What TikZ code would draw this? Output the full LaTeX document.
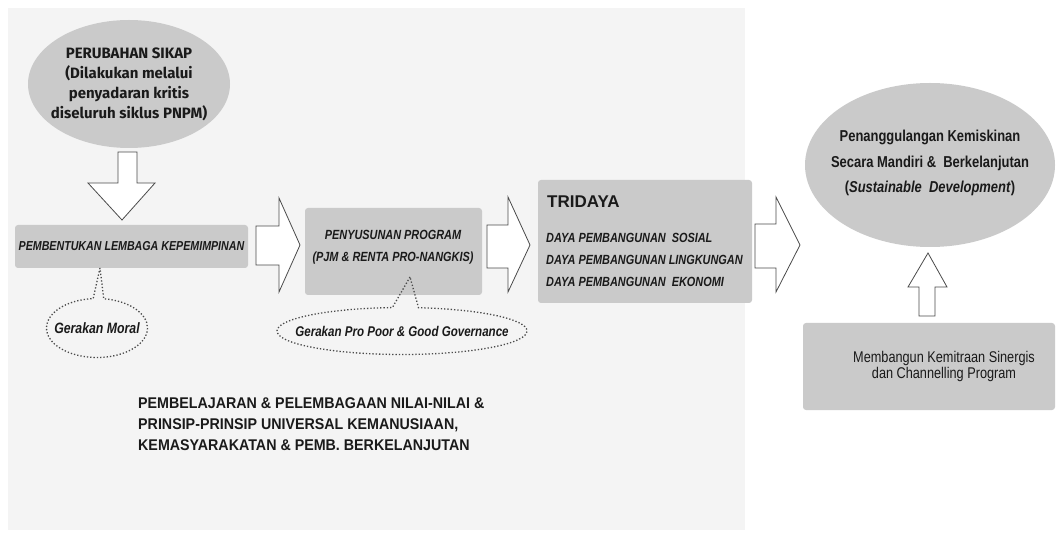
\documentclass[tikz,border=0pt]{standalone}
\usepackage{fontspec}
\setmainfont{Liberation Sans}
\newfontfamily\narrow[FakeStretch=0.82]{Liberation Sans}
\newfontfamily\semi[FakeStretch=0.92]{Liberation Sans}
\newfontfamily\gill{Fira Sans}
\usetikzlibrary{shapes.geometric,shapes.callouts}
\definecolor{panel}{HTML}{F4F4F4}
\definecolor{boxgray}{HTML}{CACACA}
\definecolor{arrowline}{HTML}{4A4A4A}
\definecolor{txt}{HTML}{1A1A1A}
\tikzset{
  graybox/.style={draw=none, fill=boxgray, rounded corners=3pt, inner sep=0pt},
  grayell/.style={ellipse, draw=none, fill=boxgray, inner sep=0pt},
  blockarrow/.style={draw=arrowline, fill=white, line width=0.8pt, line join=miter},
  dotcallout/.style={ellipse callout, draw=arrowline, dotted, line width=1.3pt, fill=none, inner sep=0pt, callout pointer arc=12},
  label/.style={inner sep=0pt, align=center},
  every node/.style={text=txt}
}
\begin{document}
\begin{tikzpicture}[x=1pt,y=-1pt]
\useasboundingbox[fill=white] (0,0) rectangle (1057,534);
\fill[panel] (8,8) rectangle (745,530);

% top-left ellipse
\node[grayell, minimum width=202pt, minimum height=128pt] (sikap) at (129,84) {};
\node[label, font=\gill\bfseries\fontsize{15}{20}\selectfont] (sikapt) at (sikap.center)
  {PERUBAHAN SIKAP\\(Dilakukan melalui\\penyadaran kritis\\diseluruh siklus PNPM)};

% down arrow
\draw[blockarrow] (118,152) -- (137,152) -- (137,183) -- (155,183) -- (122,220) -- (88,183) -- (118,183) -- cycle;

% box 1
\node[graybox, minimum width=233pt, minimum height=43pt,
      font=\narrow\bfseries\itshape\fontsize{13}{15}\selectfont] (lemb) at (131.5,246.5)
  {PEMBENTUKAN LEMBAGA KEPEMIMPINAN};

% arrow 1
\draw[blockarrow] (256,226) -- (279,226) -- (279,198) -- (300,245) -- (279,292) -- (279,265) -- (256,265) -- cycle;

% box 2
\node[graybox, minimum width=177pt, minimum height=87pt] (progbox) at (393.5,251.5) {};
\node[label, font=\narrow\bfseries\itshape\fontsize{13.3}{22}\selectfont] (prog) at (393,247)
  {PENYUSUNAN PROGRAM\\(PJM \& RENTA PRO-NANGKIS)};

% arrow 2
\draw[blockarrow] (487,225) -- (508,225) -- (508,197) -- (530,245) -- (508,292) -- (508,268) -- (487,268) -- cycle;

% tridaya box
\node[graybox, minimum width=214pt, minimum height=123pt] (tribox) at (645,241.5) {};
\node[anchor=west, inner sep=0pt, font=\bfseries\fontsize{17}{20}\selectfont] (tri) at (547,202) {TRIDAYA};
\node[anchor=west, inner sep=0pt, align=left, font=\narrow\bfseries\itshape\fontsize{13.3}{22}\selectfont] (tril) at (546,260)
  {DAYA PEMBANGUNAN\ \ SOSIAL\\DAYA PEMBANGUNAN LINGKUNGAN\\DAYA PEMBANGUNAN\ \ EKONOMI};

% arrow 3
\draw[blockarrow] (755,224) -- (776,224) -- (776,197) -- (800,245) -- (776,292) -- (776,268) -- (755,268) -- cycle;

% right ellipse
\node[grayell, minimum width=250pt, minimum height=164pt] (goal) at (930,165) {};
\node[label, font=\narrow\bfseries\fontsize{15.8}{25.5}\selectfont] (goalt) at (930,163)
  {Penanggulangan Kemiskinan\\Secara Mandiri \&\ \ Berkelanjutan\\(\textit{Sustainable\ \ Development})};

% up arrow
\draw[blockarrow] (919,316) -- (919,287) -- (908,287) -- (928,253) -- (947,287) -- (935,287) -- (935,316) -- cycle;

% bottom-right box
\node[graybox, minimum width=252pt, minimum height=87pt] (mitra) at (929,366.5) {};
\node[label, font=\narrow\fontsize{15.5}{16}\selectfont] (mitrat) at (944,366)
  {Membangun Kemitraan Sinergis\\dan Channelling Program};

% callouts
\coordinate (p1) at (100,268);
\node[dotcallout, minimum width=101pt, minimum height=59pt, callout absolute pointer={(p1)}] (moral) at (97,328) {};
\node[label, font=\narrow\bfseries\itshape\fontsize{15}{16}\selectfont] (moralt) at (moral.center) {Gerakan Moral};
\coordinate (p2) at (410,277);
\node[dotcallout, minimum width=250pt, minimum height=47pt, callout absolute pointer={(p2)}] (poor) at (402,331) {};
\node[label, font=\narrow\bfseries\itshape\fontsize{14.1}{16}\selectfont] (poort) at (poor.center) {Gerakan Pro Poor \& Good Governance};

% bottom text
\node[anchor=west, align=left, inner sep=0pt, font=\semi\bfseries\fontsize{15.5}{21}\selectfont] (nilai) at (138,424)
  {PEMBELAJARAN \& PELEMBAGAAN NILAI-NILAI \&\\PRINSIP-PRINSIP UNIVERSAL KEMANUSIAAN,\\KEMASYARAKATAN \& PEMB. BERKELANJUTAN};
\end{tikzpicture}
\end{document}
